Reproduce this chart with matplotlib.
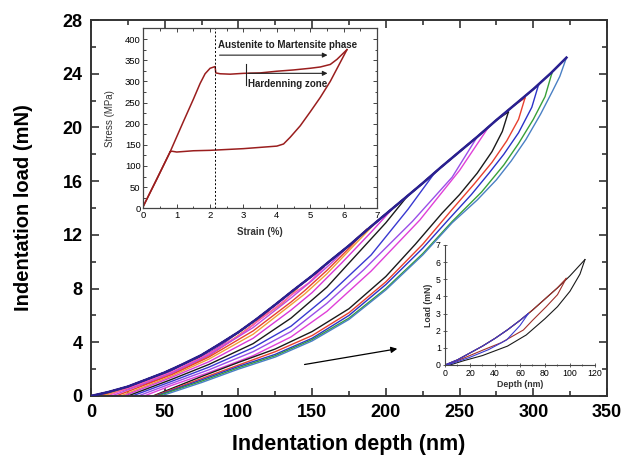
import matplotlib
matplotlib.use("Agg")
import matplotlib.pyplot as plt
from matplotlib.ticker import MultipleLocator

plt.rcParams['font.family'] = ['Liberation Sans', 'DejaVu Sans']

# ---------------- main chart data ----------------
# common loading envelope (depth nm, load mN)
env_depth = [0, 12, 25, 37, 50, 62, 75, 87, 100, 112, 125, 137, 150, 162, 175, 187, 200, 212, 225, 237, 250, 262, 275, 287, 300, 312, 322.5]
env_load = [0, 0.3, 0.7, 1.2, 1.75, 2.35, 3.05, 3.85, 4.75, 5.7, 6.8, 7.85, 8.95, 10.05, 11.2, 12.35, 13.55, 14.65, 15.85, 17.0, 18.2, 19.3, 20.55, 21.65, 22.85, 24.05, 25.2]

cycle_colors = ['#4a80c4', '#38a038', '#2a32c8', '#e8402e', '#1a1a1a',
                '#e040d8', '#9a4ee8', '#3838d0', '#1a1a1a', '#d838d8',
                '#f0a038', '#e8402e', '#c048e0', '#ff58b8', '#f0a038',
                '#e8402e', '#9040c0', '#1a1a1a', '#3030c0']

# unloading branches (depth nm / load mN)
unload_depth = [
    [322.5, 318, 313, 305, 295, 285, 275, 262, 245, 225, 200, 175, 150, 125, 100, 75, 47.5],
    [312.5, 308, 300, 290, 280, 265, 245, 225, 200, 175, 150, 125, 100, 75, 45],
    [303.5, 299, 290, 280, 270, 258, 243, 225, 200, 175, 150, 125, 100, 75, 44],
    [294.4, 290, 282, 272, 260, 245, 225, 200, 175, 150, 125, 100, 75, 43],
    [283.1, 279, 272, 262, 250, 238, 220, 200, 175, 150, 125, 100, 75, 42],
    [269.5, 250, 223, 190, 160, 135.7, 110, 80, 55, 36],
    [262, 245, 218, 185, 160, 135.7, 110, 80, 55, 32],
    [233, 215, 190, 160, 135.7, 110, 80, 55, 28],
    [214, 200, 180, 160, 135.7, 110, 80, 55, 25],
    [205, 190, 170, 150, 135.7, 110, 80, 55, 22],
    [194, 180, 160, 145, 135.7, 110, 80, 55, 20],
    [187, 175, 160, 145, 135.7, 110, 80, 55, 17],
    [175, 165, 150, 135.7, 110, 80, 55, 14],
    [158, 148, 135.7, 120, 100, 80, 55, 11],
    [140, 130, 115, 100, 80, 55, 8],
    [120, 110, 95, 80, 60, 40, 6],
    [100, 90, 75, 60, 40, 4],
    [80, 70, 55, 40, 20, 3],
    [60, 50, 38, 25, 12, 2],
]
unload_load = [
    [25.2, 23.8, 22.7, 21.0, 19.1, 17.5, 16.1, 14.6, 12.9, 10.5, 7.9, 5.7, 4.1, 2.9, 2.0, 1.0, 0],
    [24.0, 22.3, 20.6, 18.8, 17.2, 15.2, 13.0, 10.6, 8.0, 5.8, 4.2, 3.0, 2.1, 1.1, 0],
    [23.15, 21.5, 19.6, 18.0, 16.6, 15.0, 13.2, 11.0, 8.3, 6.0, 4.3, 3.1, 2.2, 1.2, 0],
    [22.2, 20.6, 19.0, 17.4, 15.8, 13.9, 11.3, 8.5, 6.2, 4.5, 3.3, 2.3, 1.3, 0],
    [21.15, 19.7, 18.2, 16.6, 15.0, 13.6, 11.3, 8.9, 6.5, 4.8, 3.5, 2.5, 1.45, 0],
    [20.0, 16.8, 13.1, 9.3, 6.3, 4.4, 3.0, 1.75, 0.8, 0],
    [19.3, 16.3, 13.0, 9.4, 6.9, 4.8, 3.3, 1.95, 0.95, 0],
    [16.6, 13.9, 10.5, 7.4, 5.2, 3.6, 2.15, 1.1, 0],
    [14.8, 12.9, 10.5, 8.1, 5.8, 3.9, 2.35, 1.25, 0],
    [14.0, 12.2, 9.9, 7.7, 6.4, 4.3, 2.55, 1.4, 0],
    [13.0, 11.4, 9.1, 7.6, 6.8, 4.6, 2.75, 1.5, 0],
    [12.4, 11.0, 9.35, 7.85, 7.0, 4.85, 2.9, 1.6, 0],
    [11.2, 10.1, 8.6, 7.3, 5.1, 3.05, 1.7, 0],
    [9.6, 8.45, 7.5, 6.15, 4.45, 3.15, 1.8, 0],
    [8.0, 6.9, 5.75, 4.5, 3.05, 1.65, 0],
    [6.3, 5.3, 4.1, 3.0, 1.9, 1.0, 0],
    [4.75, 3.9, 2.85, 1.95, 1.05, 0],
    [3.35, 2.6, 1.75, 1.05, 0.4, 0],
    [2.2, 1.6, 1.05, 0.6, 0.25, 0],
]

x_ticks = [0, 50, 100, 150, 200, 250, 300, 350]
y_ticks = [0, 4, 8, 12, 16, 20, 24, 28]

# ---------------- inset 1 (stress-strain) ----------------
ss_load_strain = [0, 0.4, 0.8, 1.2, 1.5, 1.7, 1.85, 2.0, 2.15, 2.17, 2.3, 2.6, 3.0, 3.5, 4.0, 4.5, 5.0, 5.3, 5.6, 5.8, 6.1]
ss_load_stress = [5, 68, 133, 205, 258, 295, 318, 331, 335, 320, 318, 317, 319, 320, 324, 327, 331, 334, 340, 352, 375]
ss_unload_strain = [6.1, 5.9, 5.6, 5.3, 5.0, 4.7, 4.4, 4.2, 4.0, 3.5, 3.0, 2.5, 2.0, 1.5, 1.0, 0.85, 0.8]
ss_unload_stress = [375, 345, 300, 262, 228, 195, 168, 152, 147, 144, 141, 139, 137, 136, 133, 135, 133]

# ---------------- inset 2 (small loads) ----------------
s_load_depth = [0, 10, 20, 30, 40, 50, 60, 70, 80, 90, 100, 112]
s_load_load = [0, 0.3, 0.7, 1.1, 1.55, 2.05, 2.6, 3.2, 3.85, 4.5, 5.2, 6.15]
s_colors = ['#1a1a1a', '#a0302a', '#3a3ad0']
s_peak_depth = [112, 97, 66.7]
s_peak_load = [6.15, 5.05, 3.0]
s_unload_depth = [
    [112, 108, 100, 90, 80, 65, 50, 30, 15, 4],
    [97, 90, 81, 70, 62.7, 45, 30.7, 15, 1.3],
    [66.7, 60, 49.3, 35, 20, 2],
]
s_unload_load = [
    [6.15, 5.3, 4.3, 3.4, 2.7, 1.75, 1.1, 0.55, 0.25, 0],
    [5.05, 4.1, 3.4, 2.6, 2.04, 1.3, 0.88, 0.4, 0],
    [3.0, 2.3, 1.46, 0.9, 0.45, 0],
]

# ================= drawing =================
fig = plt.figure(figsize=(6.27, 4.58), dpi=100)
ax = fig.add_axes([0.1451, 0.1354, 0.8230, 0.8209])

n = len(unload_depth)
for i in range(n - 1, -1, -1):
    hp = unload_depth[i][0]
    pp = unload_load[i][0]
    ld = [d for d in env_depth if d < hp] + [hp]
    ll = [l for d, l in zip(env_depth, env_load) if d < hp] + [pp]
    ax.plot(ld, ll, color=cycle_colors[i], lw=1.0, zorder=2)
    ax.plot(unload_depth[i], unload_load[i], color=cycle_colors[i], lw=1.0, zorder=2)
# dark top edge of the envelope
ax.plot(env_depth, env_load, color='#2a2090', lw=1.8, zorder=3)

ax.annotate('', xy=(209.6, 3.55), xytext=(143, 2.31),
            arrowprops=dict(arrowstyle='-|>', color='black', lw=0.9,
                            mutation_scale=9), zorder=4)

ax.set_xlim(0, 350)
ax.set_ylim(0, 28)
ax.set_xticks(x_ticks)
ax.set_yticks(y_ticks)
ax.xaxis.set_minor_locator(MultipleLocator(25))
ax.yaxis.set_minor_locator(MultipleLocator(2))
ax.tick_params(which='both', direction='in', top=True, right=True, color='#333333', width=1.2)
ax.tick_params(which='major', length=6, labelsize=13, pad=6)
ax.tick_params(which='minor', length=3.5)
for lab in ax.get_xticklabels() + ax.get_yticklabels():
    lab.set_fontweight('bold')
for sp in ax.spines.values():
    sp.set_linewidth(1.4)
    sp.set_color('#333333')
ax.set_xlabel('Indentation depth (nm)', fontsize=15.5, fontweight='bold', labelpad=9)
ax.set_ylabel('Indentation load (mN)', fontsize=14.5, fontweight='bold', labelpad=21)

# ---------- inset 1 ----------
ax1 = fig.add_axes([0.2286, 0.5452, 0.3727, 0.3926])
ax1.set_facecolor('white')
ax1.set_zorder(5)
ax1.plot(ss_load_strain, ss_load_stress, color='#9a1e1e', lw=1.1)
ax1.plot(ss_unload_strain, ss_unload_stress, color='#9a1e1e', lw=1.1)
ax1.plot([0.8, 0], [133, 5], color='#9a1e1e', lw=1.1)
ax1.axvline(2.15, color='black', lw=0.7, ls=(0, (2, 2)))
ax1.annotate('', xy=(5.6, 362), xytext=(2.2, 362),
             arrowprops=dict(arrowstyle='-|>', color='#222222', lw=0.8, mutation_scale=7))
ax1.annotate('', xy=(5.6, 319), xytext=(3.07, 319),
             arrowprops=dict(arrowstyle='-|>', color='#222222', lw=0.8, mutation_scale=7))
ax1.plot([3.07, 3.07], [291, 340], color='#222222', lw=0.8)
ax1.text(2.23, 386, 'Austenite to Martensite phase', fontsize=7, fontweight='bold',
         color='#222222', va='center', ha='left')
ax1.text(3.15, 293, 'Hardenning zone', fontsize=7, fontweight='bold',
         color='#222222', va='center', ha='left')
ax1.set_xlim(0, 7)
ax1.set_ylim(0, 425)
ax1.set_xticks(range(0, 8))
ax1.set_yticks(range(0, 401, 50))
ax1.xaxis.set_minor_locator(MultipleLocator(0.5))
ax1.yaxis.set_minor_locator(MultipleLocator(25))
ax1.tick_params(which='both', direction='in', top=True, right=True, labelsize=6.8,
                color='#444444', width=0.7, pad=2)
ax1.tick_params(which='major', length=3)
ax1.tick_params(which='minor', length=1.8)
for sp in ax1.spines.values():
    sp.set_linewidth(0.9)
    sp.set_color('#444444')
ax1.set_xlabel('Strain (%)', fontsize=7, fontweight='bold', color='#333333', labelpad=5)
ax1.set_ylabel('Stress (MPa)', fontsize=7, color='#333333', labelpad=7)

# ---------- inset 2 ----------
ax2 = fig.add_axes([0.7097, 0.2031, 0.2392, 0.2620])
ax2.patch.set_alpha(0)
ax2.set_zorder(5)
for i in range(len(s_colors)):
    ld = [d for d in s_load_depth if d < s_peak_depth[i]] + [s_peak_depth[i]]
    ll = [l for d, l in zip(s_load_depth, s_load_load) if d < s_peak_depth[i]] + [s_peak_load[i]]
    ax2.plot(ld, ll, color=s_colors[i], lw=0.8)
    ax2.plot(s_unload_depth[i], s_unload_load[i], color=s_colors[i], lw=0.8)
ax2.set_xlim(0, 120)
ax2.set_ylim(0, 7)
ax2.set_xticks(range(0, 121, 20))
ax2.set_yticks(range(0, 8))
ax2.xaxis.set_minor_locator(MultipleLocator(10))
ax2.spines['top'].set_visible(False)
ax2.spines['right'].set_visible(False)
for s in ('left', 'bottom'):
    ax2.spines[s].set_linewidth(0.8)
    ax2.spines[s].set_color('#444444')
ax2.tick_params(which='both', direction='inout', labelsize=6.3, color='#444444', width=0.6, pad=1.5)
ax2.tick_params(which='major', length=3)
ax2.tick_params(which='minor', length=2)
ax2.set_xlabel('Depth (nm)', fontsize=6.3, fontweight='bold', color='#333333', labelpad=1)
ax2.set_ylabel('Load (mN)', fontsize=6.3, fontweight='bold', color='#333333', labelpad=2)

fig.savefig('out.png', dpi=100)
